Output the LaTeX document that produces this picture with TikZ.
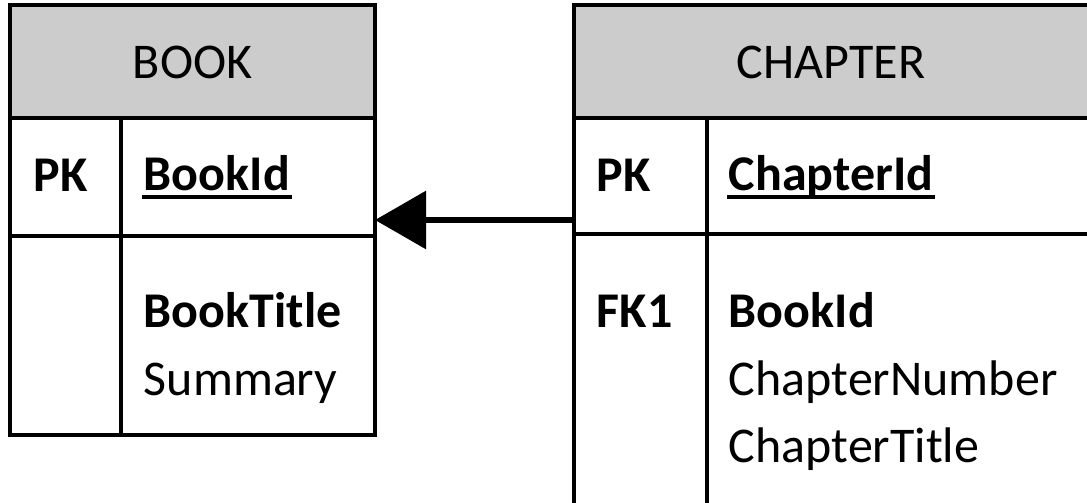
\documentclass[tikz,border=0pt]{standalone}
\usepackage{fontspec}
\setmainfont{Carlito}
\usetikzlibrary{arrows.meta, positioning}

\begin{document}
\begin{tikzpicture}[
        x = 1pt, y = -1pt,
        line width = 3.8pt,
        >= {Triangle[length = 51pt, width = 57pt]},
        every node/.style = {font = \fontsize{50}{67.5}\selectfont},
        table head/.style = {draw, fill = gray!40, outer sep = 0pt, inner sep = 0pt, anchor = north west},
        table cell/.style = {draw, fill = white, outer sep = 0pt, inner sep = 0pt},
        entry/.style = {inner sep = 0pt, anchor = base west},
        key/.style = {entry, font = \fontsize{50}{67.5}\selectfont\bfseries}
    ]

      \useasboundingbox (0,0) rectangle (1087,503);

      % BOOK table
      \node[table head, minimum width = 365pt, minimum height = 113pt] (bookhead) at (10,5) {};
      \node[table cell, minimum width = 111pt, minimum height = 118pt,
            below right = 0pt of bookhead.south west] (bookpk) {};
      \node[table cell, minimum width = 254pt, minimum height = 118pt,
            below right = 0pt of bookpk.north east, anchor = north west] (bookpkfield) {};
      \node[table cell, minimum width = 111pt, minimum height = 199pt,
            below right = 0pt of bookpk.south west] (bookkeys) {};
      \node[table cell, minimum width = 254pt, minimum height = 199pt,
            below right = 0pt of bookpkfield.south west] (bookfields) {};

      \node[anchor = base, inner sep = 0pt] (booktitle) at (192.5,78) {BOOK};
      \node[key] (bookpklabel) at (32,191) {PK};
      \node[key] (bookid) at (142,190) {BookId};
      \node[key] (booktitlefield) at (142,327) {BookTitle};
      \node[entry] (summary) at (142,395) {Summary};

      % CHAPTER table
      \node[table head, minimum width = 516pt, minimum height = 113pt] (chaphead) at (574,5) {};
      \node[table cell, minimum width = 133pt, minimum height = 116pt,
            below right = 0pt of chaphead.south west] (chappk) {};
      \node[table cell, minimum width = 383pt, minimum height = 116pt,
            below right = 0pt of chappk.north east, anchor = north west] (chappkfield) {};
      \node[table cell, minimum width = 133pt, minimum height = 272pt,
            below right = 0pt of chappk.south west] (chapkeys) {};
      \node[table cell, minimum width = 383pt, minimum height = 272pt,
            below right = 0pt of chappkfield.south west] (chapfields) {};

      \node[anchor = base, inner sep = 0pt] (chaptitle) at (831,78) {CHAPTER};
      \node[key] (chappklabel) at (595,191) {PK};
      \node[key] (chapterid) at (727,190) {ChapterId};
      \node[key] (fklabel) at (595,327) {FK1};
      \node[key] (chapbookid) at (727,327) {BookId};
      \node[entry] (chapnumber) at (727,395) {ChapterNumber};
      \node[entry] (chaptertitle) at (727,462) {ChapterTitle};

      % primary keys underlined
      \draw[line width = 4pt] ([yshift = -6.5pt]bookid.base west) -- ([yshift = -6.5pt]bookid.base east);
      \draw[line width = 4pt] ([yshift = -6.5pt]chapterid.base west) -- ([yshift = -6.5pt]chapterid.base east);

      % foreign key reference
      \coordinate (fkstart) at ([yshift = 14pt]chappk.south west);
      \draw[->, line width = 6pt] (fkstart) -- (fkstart -| bookpkfield.east);

    \end{tikzpicture}
\end{document}
